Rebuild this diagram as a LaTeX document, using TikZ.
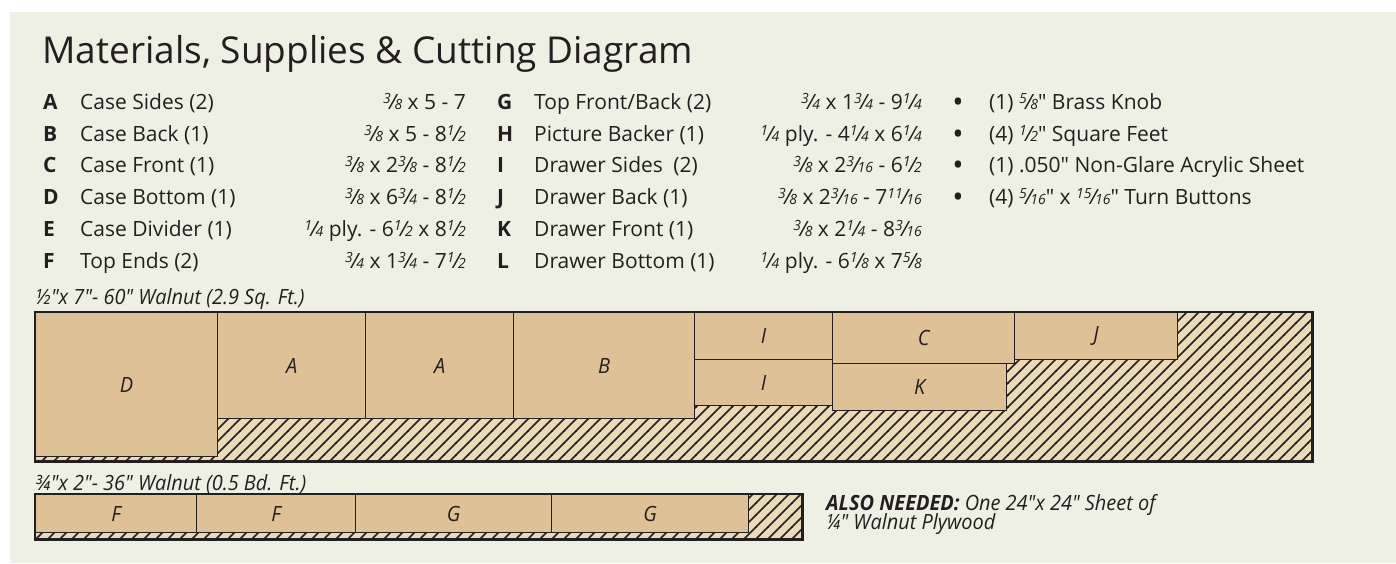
\documentclass[tikz,border=0pt]{standalone}
\usepackage{fontspec}
\setmainfont[Ligatures=TeXOff]{Open Sans}
\newfontfamily\narrowfont[FakeStretch=0.95, Ligatures=TeXOff]{Open Sans}
\usetikzlibrary{patterns,positioning}
\definecolor{panelBg}{RGB}{239,240,228}
\definecolor{woodTan}{RGB}{223,193,152}
\definecolor{scrapTan}{RGB}{234,218,186}
\definecolor{inkDark}{RGB}{35,31,32}

% wide diagonal hatching for the scrap areas
\pgfdeclarepatternformonly{wideHatch}{\pgfqpoint{-1pt}{-1pt}}{\pgfqpoint{13pt}{13pt}}{\pgfqpoint{12pt}{12pt}}{%
  \pgfsetlinewidth{1.6pt}%
  \pgfpathmoveto{\pgfqpoint{-0.5pt}{-0.5pt}}%
  \pgfpathlineto{\pgfqpoint{12.5pt}{12.5pt}}%
  \pgfusepath{stroke}}

\newcommand{\fr}[2]{{\itshape\raisebox{.27em}{\fontsize{14pt}{14pt}\selectfont #1}\kern-.08em/\kern-.1em{\fontsize{14pt}{14pt}\selectfont #2}}}
\newcommand{\partkey}[1]{\makebox[37pt][l]{\textbf{#1}}}

\tikzset{
  partrow/.style={anchor=base west, inner sep=0pt, text=inkDark, font=\fontsize{21}{24}\selectfont},
  partsize/.style={partrow, anchor=base east},
  bulletmark/.style={anchor=base, inner sep=0pt, text=inkDark, font=\fontsize{30}{30}\selectfont},
  boardlabel/.style={anchor=base west, inner sep=0pt, text=inkDark, font=\narrowfont\itshape\fontsize{21}{24}\selectfont},
  board/.style={anchor=north west, inner sep=0pt, preaction={fill=scrapTan}, pattern=wideHatch, pattern color=inkDark},
  boardframe/.style={draw=inkDark, line width=2.6pt},
  piece/.style={anchor=north west, inner sep=0pt, draw=inkDark, line width=1.2pt, fill=woodTan, text=inkDark, font=\narrowfont\itshape\fontsize{21}{24}\selectfont}
}

\begin{document}
\begin{tikzpicture}[x=1pt, y=-1pt]

\useasboundingbox (0,0) rectangle (1396,563);
\fill[white] (0,0) rectangle (1396,563);
\fill[panelBg] (10,12) rectangle (1396,563);

% ===== TITLE =====
\node[anchor=base west, inner sep=0pt, text=inkDark, font=\fontsize{37}{42}\selectfont] (title) at (42,63) {Materials, Supplies \& Cutting Diagram};

% ===== PARTS LIST: first column =====
\node[partrow] (rowA) at (43,109) {\partkey{A}Case Sides (2)};
\node[partsize] (sizeA) at (466,109) {\fr{3}{8} x 5 - 7};
\node[partrow] (rowB) at (43,141) {\partkey{B}Case Back (1)};
\node[partsize] (sizeB) at (466,141) {\fr{3}{8} x 5 - 8\fr{1}{2}};
\node[partrow] (rowC) at (43,172.5) {\partkey{C}Case Front (1)};
\node[partsize] (sizeC) at (466,172.5) {\fr{3}{8} x 2\fr{3}{8} - 8\fr{1}{2}};
\node[partrow] (rowD) at (43,204.5) {\partkey{D}Case Bottom (1)};
\node[partsize] (sizeD) at (466,204.5) {\fr{3}{8} x 6\fr{3}{4} - 8\fr{1}{2}};
\node[partrow] (rowE) at (43,236) {\partkey{E}Case Divider (1)};
\node[partsize] (sizeE) at (466,236) {\fr{1}{4} ply. - 6\fr{1}{2} x 8\fr{1}{2}};
\node[partrow] (rowF) at (43,268) {\partkey{F}Top Ends (2)};
\node[partsize] (sizeF) at (466,268) {\fr{3}{4} x 1\fr{3}{4} - 7\fr{1}{2}};

% ===== PARTS LIST: second column =====
\node[partrow] (rowG) at (497,109) {\partkey{G}Top Front/Back (2)};
\node[partsize] (sizeG) at (922,109) {\fr{3}{4} x 1\fr{3}{4} - 9\fr{1}{4}};
\node[partrow] (rowH) at (497,141) {\partkey{H}Picture Backer (1)};
\node[partsize] (sizeH) at (922,141) {\fr{1}{4} ply. - 4\fr{1}{4} x 6\fr{1}{4}};
\node[partrow] (rowI) at (497,172.5) {\partkey{I}Drawer Sides\enspace(2)};
\node[partsize] (sizeI) at (922,172.5) {\fr{3}{8} x 2\fr{3}{16} - 6\fr{1}{2}};
\node[partrow] (rowJ) at (497,204.5) {\partkey{J}Drawer Back (1)};
\node[partsize] (sizeJ) at (922,204.5) {\fr{3}{8} x 2\fr{3}{16} - 7\fr{11}{16}};
\node[partrow] (rowK) at (497,236) {\partkey{K}Drawer Front (1)};
\node[partsize] (sizeK) at (922,236) {\fr{3}{8} x 2\fr{1}{4} - 8\fr{3}{16}};
\node[partrow] (rowL) at (497,268) {\partkey{L}Drawer Bottom (1)};
\node[partsize] (sizeL) at (922,268) {\fr{1}{4} ply. - 6\fr{1}{8} x 7\fr{5}{8}};

% ===== SUPPLIES =====
\node[bulletmark] (bulletKnob) at (958,112) {•};
\node[partrow] (knob) at (989,109) {(1) \fr{5}{8}" Brass Knob};
\node[bulletmark] (bulletFeet) at (958,144) {•};
\node[partrow] (feet) at (989,141) {(4) \fr{1}{2}" Square Feet};
\node[bulletmark] (bulletSheet) at (958,175.5) {•};
\node[partrow] (sheet) at (989,172.5) {(1) .050" Non-Glare Acrylic Sheet};
\node[bulletmark] (bulletButtons) at (958,207.5) {•};
\node[partrow] (buttons) at (989,204.5) {(4) \fr{5}{16}" x \fr{15}{16}" Turn Buttons};

% ===== LONG BOARD =====
\node[boardlabel] (longLabel) at (35,304) {½"x 7"- 60" Walnut (2.9 Sq. Ft.)};
\node[board, minimum width=1277pt, minimum height=149pt] (longBoard) at (35,312) {};

\node[piece, minimum width=182pt, minimum height=144pt] (pieceD) at (35,312) {D};
\node[piece, minimum width=148pt, minimum height=106pt] (pieceA1) at (217,312) {A};
\node[piece, minimum width=148pt, minimum height=106pt] (pieceA2) at (365,312) {A};
\node[piece, minimum width=181pt, minimum height=106pt] (pieceB) at (513,312) {B};
\node[piece, minimum width=138pt, minimum height=47pt] (pieceI1) at (694,312) {I};
\node[piece, minimum width=138pt, minimum height=46pt] (pieceI2) at (694,359) {I};
\node[piece, minimum width=182pt, minimum height=51pt] (pieceC) at (832,312) {C};
\node[piece, minimum width=174pt, minimum height=47pt] (pieceK) at (832,363) {K};
\node[piece, minimum width=163pt, minimum height=47pt] (pieceJ) at (1014,312) {J};

\draw[boardframe] (longBoard.north west) rectangle (longBoard.south east);

% ===== SHORT BOARD =====
\node[boardlabel] (shortLabel) at (35,490) {¾"x 2"- 36" Walnut (0.5 Bd. Ft.)};
\node[board, minimum width=767pt, minimum height=45pt] (shortBoard) at (35,494) {};

\node[piece, minimum width=161pt, minimum height=38pt] (pieceF1) at (35,494) {F};
\node[piece, minimum width=159pt, minimum height=38pt] (pieceF2) at (196,494) {F};
\node[piece, minimum width=196pt, minimum height=38pt] (pieceG1) at (355,494) {G};
\node[piece, minimum width=197pt, minimum height=38pt] (pieceG2) at (551,494) {G};

\draw[boardframe] (shortBoard.north west) rectangle (shortBoard.south east);

% Note
\node[boardlabel] (alsoNeeded) at (826,510) {\textbf{ALSO NEEDED:} One 24"x 24" Sheet of};
\node[boardlabel] (alsoNeededCont) at (826,529) {¼" Walnut Plywood};

\end{tikzpicture}
\end{document}
